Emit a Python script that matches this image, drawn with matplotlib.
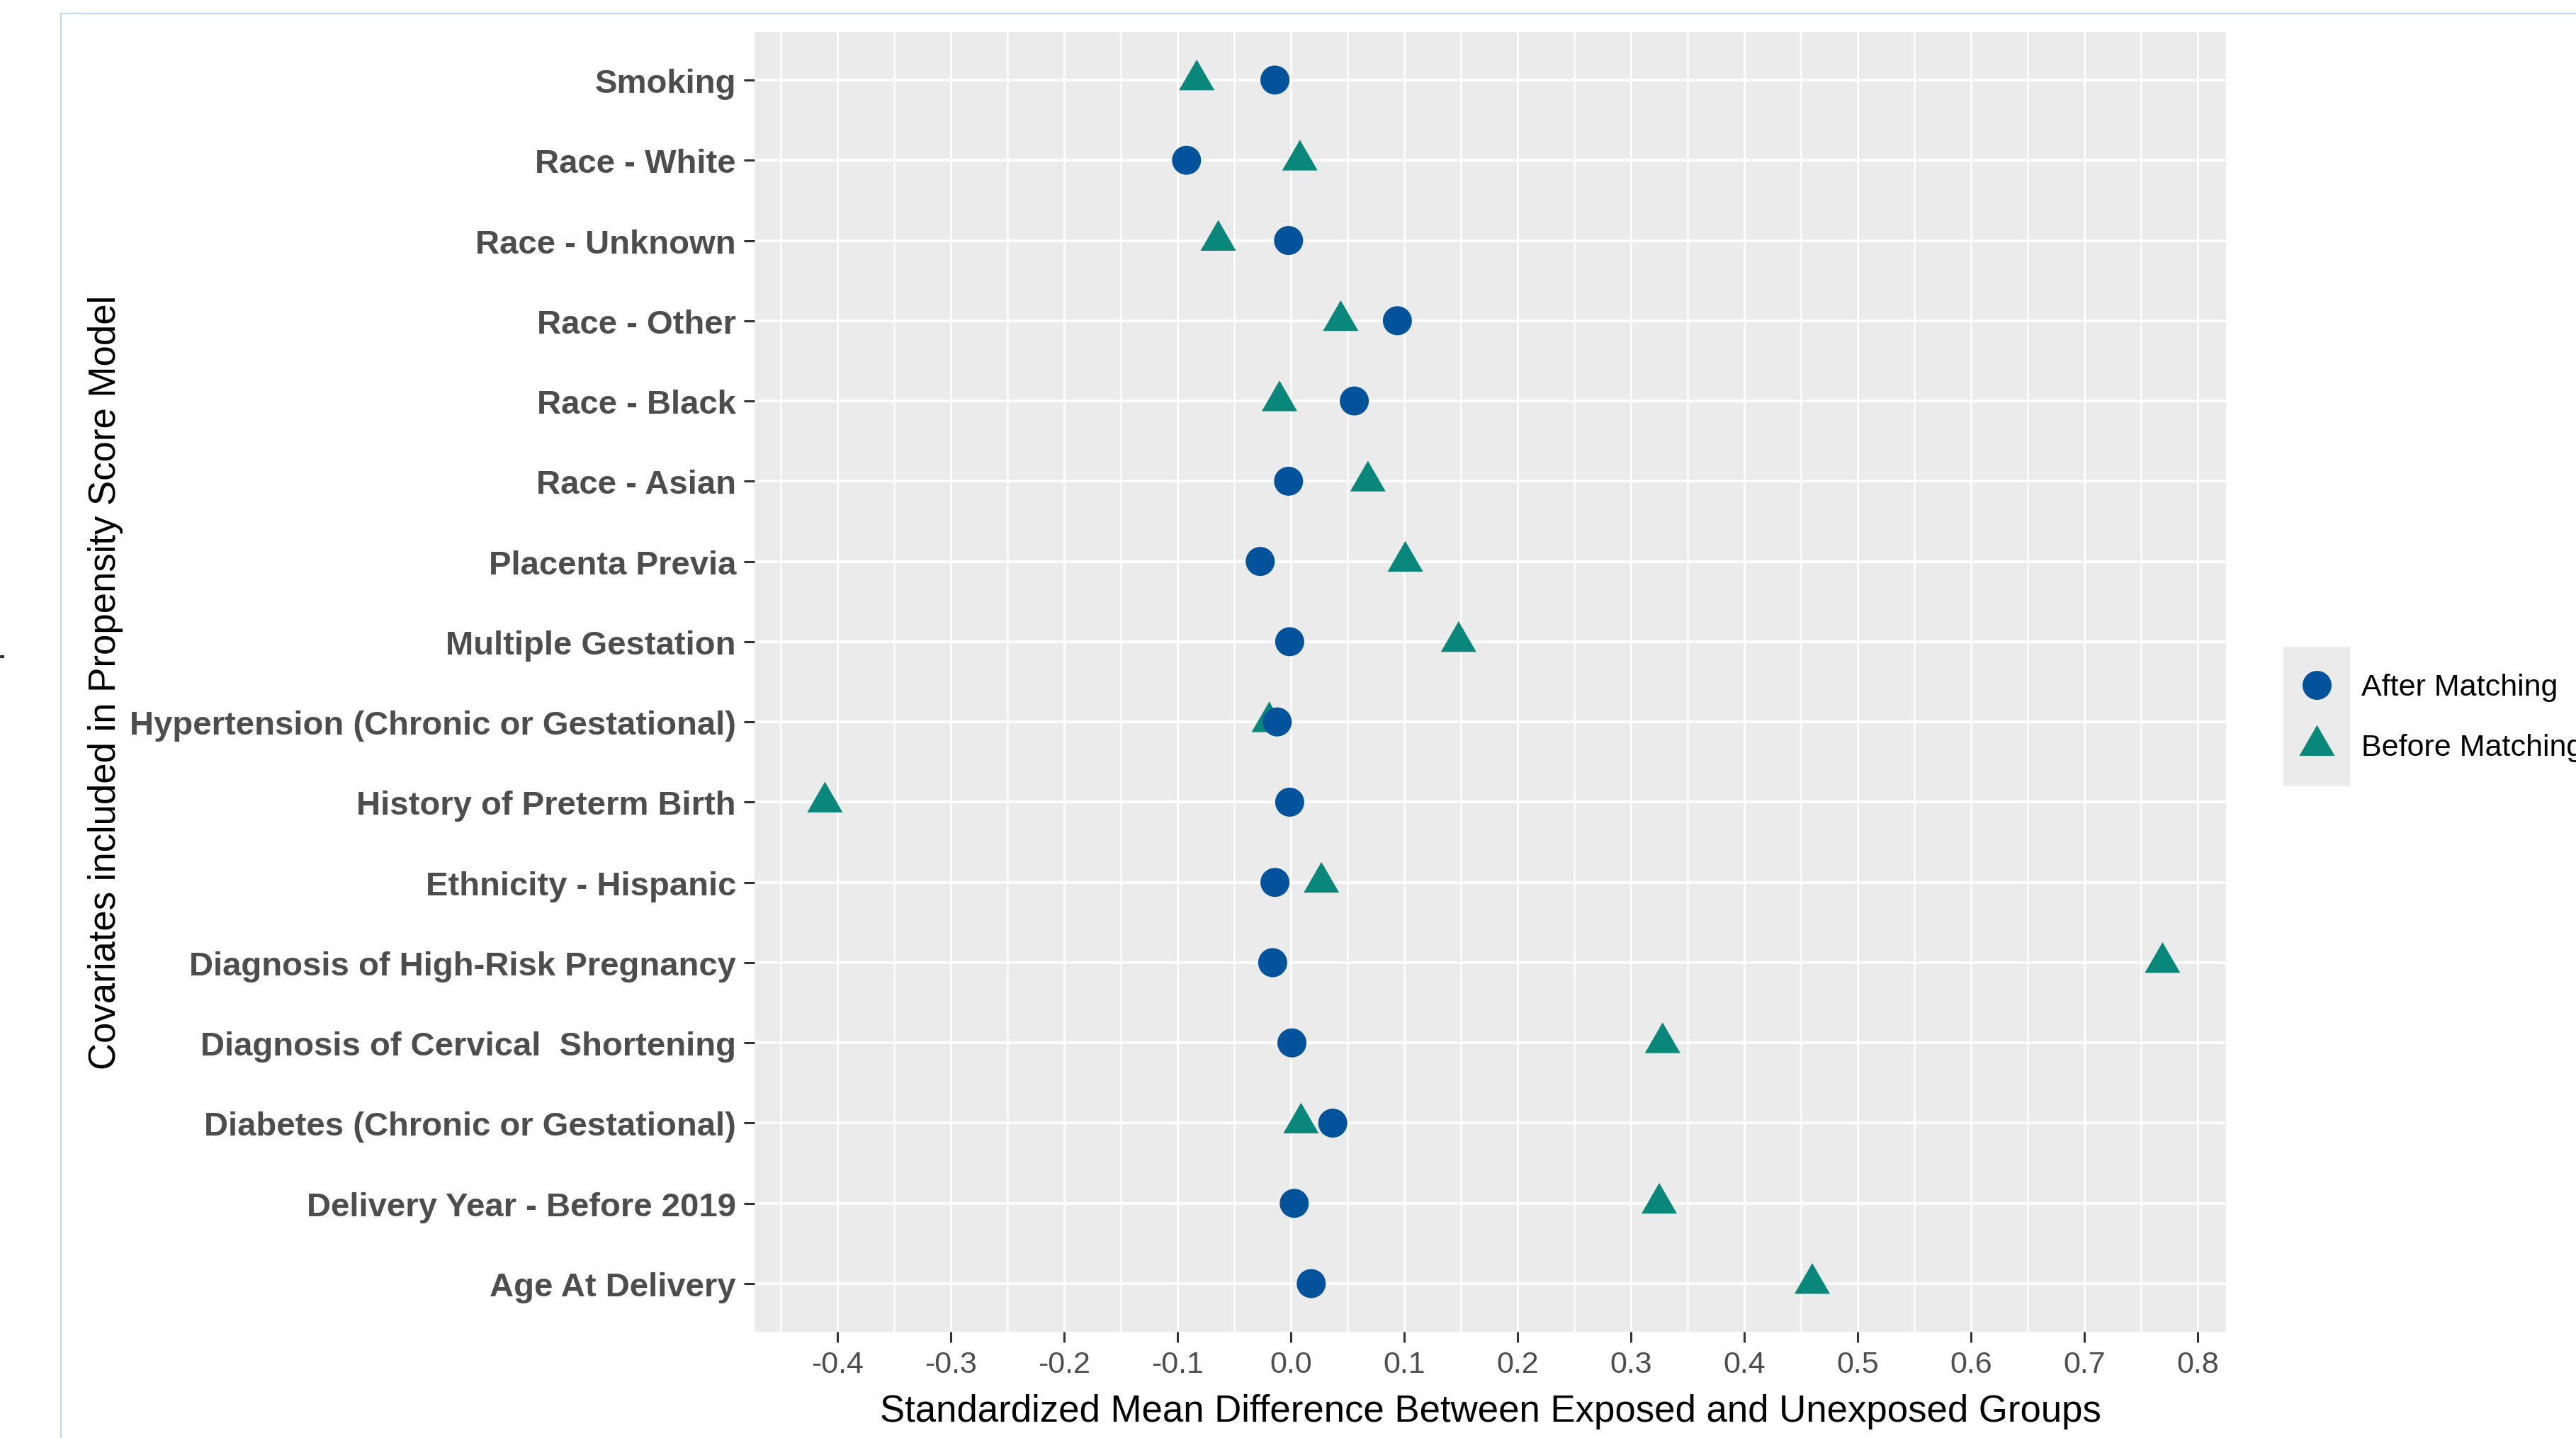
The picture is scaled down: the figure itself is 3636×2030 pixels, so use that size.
import matplotlib
matplotlib.use('Agg')
import matplotlib.pyplot as plt
from matplotlib.lines import Line2D
from matplotlib.patches import Rectangle
import numpy as np

plt.rcParams['font.family'] = ['Liberation Sans', 'DejaVu Sans']

# Covariates, listed top to bottom as in the chart
covariates = [
    'Smoking', 'Race - White', 'Race - Unknown', 'Race - Other', 'Race - Black',
    'Race - Asian', 'Placenta Previa', 'Multiple Gestation',
    'Hypertension (Chronic or Gestational)', 'History of Preterm Birth',
    'Ethnicity - Hispanic', 'Diagnosis of High-Risk Pregnancy',
    'Diagnosis of Cervical  Shortening', 'Diabetes (Chronic or Gestational)',
    'Delivery Year - Before 2019', 'Age At Delivery',
]
# Standardized mean differences
smd_after = [-0.014, -0.092, -0.002, 0.094, 0.056, -0.002, -0.027, -0.001,
             -0.012, -0.001, -0.014, -0.016, 0.001, 0.037, 0.003, 0.018]
smd_before = [-0.083, 0.008, -0.064, 0.044, -0.010, 0.068, 0.101, 0.148,
              -0.019, -0.411, 0.027, 0.769, 0.328, 0.009, 0.325, 0.460]

series_labels = ['After Matching', 'Before Matching']
series_colors = ['#02529C', '#08877A']

x_ticks = [-0.4, -0.3, -0.2, -0.1, 0.0, 0.1, 0.2, 0.3, 0.4, 0.5, 0.6, 0.7, 0.8]
x_tick_labels = ['-0.4', '-0.3', '-0.2', '-0.1', '0.0', '0.1', '0.2', '0.3',
                 '0.4', '0.5', '0.6', '0.7', '0.8']
x_minor = [-0.45, -0.35, -0.25, -0.15, -0.05, 0.05, 0.15, 0.25, 0.35, 0.45,
           0.55, 0.65, 0.75]

W, H = 3636, 2031
fig = plt.figure(figsize=(W / 100, H / 100), dpi=100)
fig.patch.set_facecolor('white')

# panel position (pixels from the reference)
left, right, top, bottom = 1065, 3142, 46, 1881
ax = fig.add_axes([left / W, 1 - bottom / H, (right - left) / W, (bottom - top) / H])
ax.set_facecolor('#EBEBEB')
for s in ax.spines.values():
    s.set_visible(False)

# y positions: first covariate at the top
n = len(covariates)
ypos = np.arange(n)[::-1]

tri = [(-1, -0.577), (1, -0.577), (0, 1.155)]
ax.scatter(smd_before, ypos, marker=tri, s=1730, color=series_colors[1],
           edgecolors='none', zorder=3)
ax.scatter(smd_after, ypos, marker='o', s=870, color=series_colors[0],
           edgecolors='none', zorder=4)

ax.set_xlim(-0.4731, 0.825)
ax.set_ylim(-0.6, n - 1 + 0.6)

ax.set_xticks(x_ticks)
ax.set_xticklabels(x_tick_labels)
ax.set_xticks(x_minor, minor=True)
ax.set_yticks(ypos)
ax.set_yticklabels(covariates)

ax.tick_params(axis='x', which='major', length=10.8, width=2.2, color='#333333',
               pad=8, labelsize=31, labelcolor='#4D4D4D')
ax.tick_params(axis='x', which='minor', length=0)
ax.tick_params(axis='y', length=10.8, width=2.2, color='#333333', pad=8,
               labelsize=34, labelcolor='#4D4D4D')
for lab in ax.get_yticklabels():
    lab.set_fontweight('bold')

ax.grid(True, which='major', axis='x', color='white', lw=2.2)
ax.grid(True, which='minor', axis='x', color='white', lw=1.8)
ax.grid(True, which='major', axis='y', color='white', lw=2.6)
ax.set_axisbelow(True)

ax.set_xlabel('Standardized Mean Difference Between Exposed and Unexposed Groups',
              fontsize=38, color='black')
ax.xaxis.set_label_coords(0.5, -0.0474)
ax.set_ylabel('Covariates included in Propensity Score Model', fontsize=38,
              color='black')
ax.yaxis.set_label_coords(-0.429, 0.5)

# legend drawn by hand: grey key column, keys and labels to the right
kx0, kx1, ky0, ky1 = 3223, 3317, 914, 1111
fig.patches.append(Rectangle((kx0 / W, 1 - ky1 / H), (kx1 - kx0) / W, (ky1 - ky0) / H,
                             transform=fig.transFigure, facecolor='#EBEBEB',
                             edgecolor='none'))
key_y = [968, 1053]
key_marker = ['o', tri]
key_size = [29.5, 41.6]
for lab, col, mk, ms, yy in zip(series_labels, series_colors, key_marker, key_size, key_y):
    fig.add_artist(Line2D([(kx0 + kx1) / 2 / W], [1 - yy / H], transform=fig.transFigure,
                          marker=mk, markersize=ms, color=col, markeredgewidth=0,
                          linestyle='none'))
    fig.text(3333 / W, 1 - (yy + 3) / H, lab, fontsize=31, color='black',
             va='center', ha='left')

# thin light-blue frame from the screenshot
fig.add_artist(Line2D([86 / W, 1], [1 - 20 / H, 1 - 20 / H], transform=fig.transFigure,
                      color='#BBD8F8', lw=1.5))
fig.add_artist(Line2D([86 / W, 86 / W], [0, 1 - 20 / H], transform=fig.transFigure,
                      color='#BBD8F8', lw=1.5))
# small dark fragment at the left edge of the screenshot
fig.add_artist(Line2D([0, 4 / W], [1 - 928 / H, 1 - 928 / H], transform=fig.transFigure,
                      color='#333333', lw=3))

plt.savefig('out.png', dpi=100)
